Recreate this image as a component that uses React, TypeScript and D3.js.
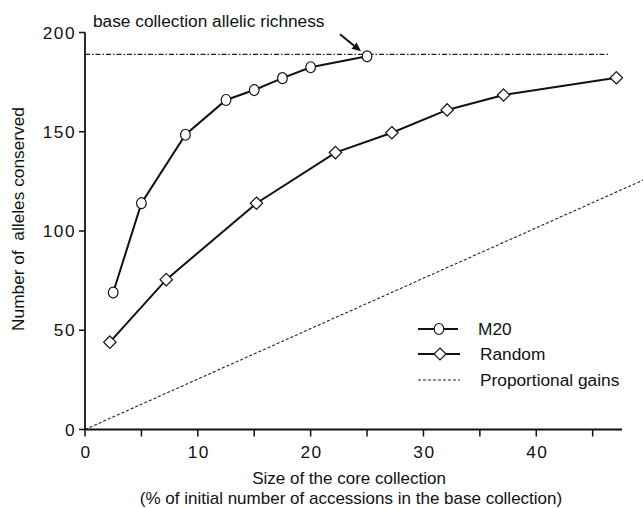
import React from "react";
import * as d3 from "d3";

// Core collection size (% of base accessions) and alleles conserved
const m20Size = [2.5, 5, 8.9, 12.5, 15, 17.5, 20, 25];
const m20Alleles = [69, 114, 148.5, 166, 171, 177, 182.5, 188];
const randomSize = [2.2, 7.2, 15.2, 22.2, 27.2, 32.1, 37.1, 47.1];
const randomAlleles = [44, 75.5, 114, 139.5, 149.5, 161, 168.5, 177.2];
const proportionalSize = [0, 50];
const proportionalAlleles = [0, 127];
const baseRichness = 189;

const xTicks = [0, 5, 10, 15, 20, 25, 30, 35, 40, 45];
const xTickLabels = [0, 10, 20, 30, 40];
const yTicks = [0, 50, 100, 150, 200];

const legendItems = ["M20", "Random", "Proportional gains"];

const W = 643;
const H = 508;
const FONT = "'Liberation Sans', Arial, Helvetica, sans-serif";
const FS = 17.3;

export default function App() {
  const x = d3.scaleLinear().domain([0, 47.6]).range([85, 622]);
  const y = d3.scaleLinear().domain([0, 200]).range([429.5, 32.5]);

  const line = d3
    .line<[number, number]>()
    .x((d) => x(d[0]))
    .y((d) => y(d[1]));

  const m20 = m20Size.map((s, i) => [s, m20Alleles[i]] as [number, number]);
  const rnd = randomSize.map((s, i) => [s, randomAlleles[i]] as [number, number]);
  const prop = proportionalSize.map((s, i) => [s, proportionalAlleles[i]] as [number, number]);

  const diamond = (cx: number, cy: number, r = 6.2) =>
    `M${cx},${cy - r}L${cx + r},${cy}L${cx},${cy + r}L${cx - r},${cy}Z`;

  // arrow pointing at the last M20 point
  const last = m20[m20.length - 1];
  const tipX = x(last[0]) - 6;
  const tipY = y(last[1]) - 5;
  const tailX = tipX - 21;
  const tailY = tipY - 17;
  const ang = Math.atan2(tipY - tailY, tipX - tailX);
  const hl = 9;
  const hw = 4;
  const bx = tipX - hl * Math.cos(ang);
  const by = tipY - hl * Math.sin(ang);
  const head = `M${tipX},${tipY}L${bx - hw * Math.sin(ang)},${by + hw * Math.cos(ang)}L${bx + hw * Math.sin(ang)},${by - hw * Math.cos(ang)}Z`;

  const legX = 418;
  const legY = [329, 354, 380];

  return (
    <svg
      width={W}
      height={H}
      style={{ position: "absolute", left: 0, top: 0, background: "#fff" }}
      fontFamily={FONT}
    >
      {/* base collection reference line */}
      <line
        x1={x(0)}
        x2={610}
        y1={y(baseRichness)}
        y2={y(baseRichness)}
        stroke="#222"
        strokeWidth={1.1}
        strokeDasharray="5,2,1.5,2"
      />
      {/* proportional gains */}
      <path d={line(prop) || ""} fill="none" stroke="#222" strokeWidth={1.1} strokeDasharray="3,2" />

      {/* axes */}
      <line x1={x(0)} x2={x(0)} y1={y(0)} y2={y(200)} stroke="#111" strokeWidth={1.8} />
      <line x1={x(0)} x2={x(47.6)} y1={y(0)} y2={y(0)} stroke="#111" strokeWidth={1.8} />
      {yTicks.map((t) => (
        <g key={"y" + t}>
          <line x1={x(0) - 6} x2={x(0)} y1={y(t)} y2={y(t)} stroke="#111" strokeWidth={1.5} />
          <text
            x={x(0) - 9}
            y={y(t)}
            dy="0.36em"
            textAnchor="end"
            fontSize={FS}
            letterSpacing={1.5}
            fill="#111"
          >
            {t}
          </text>
        </g>
      ))}
      {xTicks.map((t) => (
        <line key={"x" + t} x1={x(t)} x2={x(t)} y1={y(0)} y2={y(0) + 7} stroke="#111" strokeWidth={1.5} />
      ))}
      {xTickLabels.map((t) => (
        <text
          key={"xl" + t}
          x={x(t) + 1}
          y={y(0) + 28.5}
          textAnchor="middle"
          fontSize={FS}
          letterSpacing={1.5}
          fill="#111"
        >
          {t}
        </text>
      ))}

      {/* axis titles */}
      <text x={349} y={484} textAnchor="middle" fontSize={17} fill="#111">
        Size of the core collection
      </text>
      <text x={351} y={504} textAnchor="middle" fontSize={17} fill="#111">
        (% of initial number of accessions in the base collection)
      </text>
      <text
        transform="translate(24,219) rotate(-90)"
        textAnchor="middle"
        fontSize={FS}
        fill="#111"
        style={{ whiteSpace: "pre" }}
      >
        {"Number of  alleles conserved"}
      </text>

      {/* series */}
      <path d={line(rnd) || ""} fill="none" stroke="#111" strokeWidth={2} />
      <path d={line(m20) || ""} fill="none" stroke="#111" strokeWidth={2} />
      {rnd.map((d, i) => (
        <path key={"r" + i} d={diamond(x(d[0]), y(d[1]))} fill="#fff" stroke="#111" strokeWidth={1.2} />
      ))}
      {m20.map((d, i) => (
        <ellipse key={"m" + i} cx={x(d[0])} cy={y(d[1])} rx={4.8} ry={5.5} fill="#fff" stroke="#111" strokeWidth={1.2} />
      ))}

      {/* annotation */}
      <text x={93} y={27} fontSize={FS} fill="#111">
        base collection allelic richness
      </text>
      <line x1={tailX} y1={tailY} x2={bx} y2={by} stroke="#111" strokeWidth={2} />
      <path d={head} fill="#111" />

      {/* legend */}
      <g>
        <line x1={legX} x2={legX + 40} y1={legY[0]} y2={legY[0]} stroke="#111" strokeWidth={1.8} />
        <ellipse cx={legX + 21} cy={legY[0]} rx={4.8} ry={5.5} fill="#fff" stroke="#111" strokeWidth={1.2} />
        <line x1={legX} x2={legX + 42} y1={legY[1]} y2={legY[1]} stroke="#111" strokeWidth={1.8} />
        <path d={diamond(legX + 22, legY[1], 6)} fill="#fff" stroke="#111" strokeWidth={1.2} />
        <line
          x1={legX}
          x2={legX + 42}
          y1={legY[2]}
          y2={legY[2]}
          stroke="#222"
          strokeWidth={1.1}
          strokeDasharray="3,2"
        />
        {legendItems.map((name, i) => (
          <text key={name} x={i === 0 ? 478 : 480} y={legY[i]} dy="0.36em" fontSize={FS} fill="#111">
            {name}
          </text>
        ))}
      </g>
    </svg>
  );
}
